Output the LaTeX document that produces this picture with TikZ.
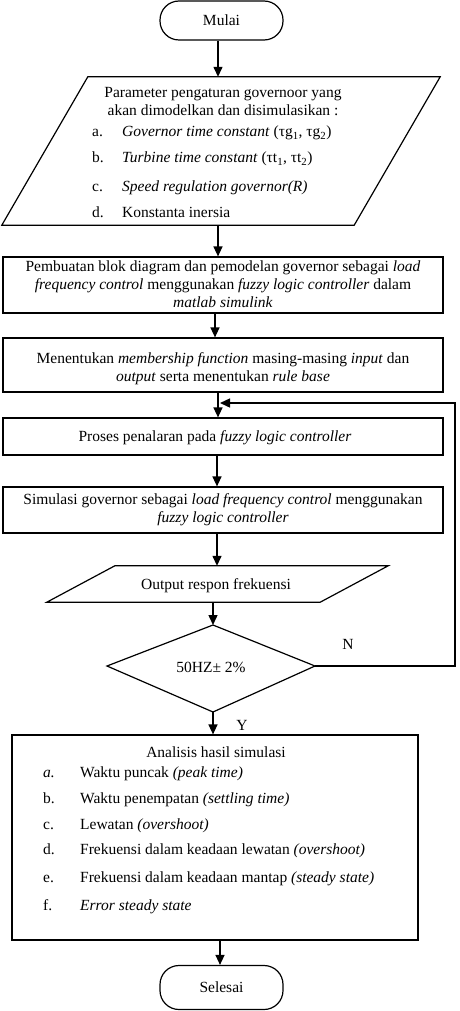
\documentclass[tikz,border=0pt]{standalone}
\usepackage{fontspec}
\setmainfont{Liberation Serif}
\usetikzlibrary{arrows.meta,calc}
\begin{document}
\begin{tikzpicture}[x=1pt,y=-1pt,
  every node/.style={font=\fontsize{15.5}{17.8}\selectfont, inner sep=0pt},
  box/.style={draw, line width=1.2pt},
  term/.style={draw, line width=1.2pt, rounded corners=19pt},
  ghost/.style={draw=none},
  arr/.style={line width=1.4pt, -{Triangle[width=9pt,length=10pt]}},
  line/.style={line width=1.2pt},
  lbl/.style={anchor=base west},
  mid/.style={anchor=base, align=center}]
\useasboundingbox (0,0) rectangle (459,1011);

% Mulai
\node[term, minimum width=123pt, minimum height=39pt] (start) at (221.5,20.5) {Mulai};

% Parallelogram 1
\node[ghost, minimum width=438pt, minimum height=148pt] (p1) at (221,151) {};
\draw[line] ($(p1.north west)+(86,0)$) -- (p1.north east) -- ($(p1.south east)-(86,0)$) -- (p1.south west) -- cycle;
\node[mid] (p1t1) at (223,98) {Parameter pengaturan governoor yang};
\node[mid] (p1t2) at (223,115.5) {akan dimodelkan dan disimulasikan :};
\node[lbl] (p1a) at (92,137) {a.};
\node[lbl] (p1at) at (122,137) {\textit{Governor  time constant} (τg\textsubscript{1}, τg\textsubscript{2})};
\node[lbl] (p1b) at (92,163) {b.};
\node[lbl] (p1bt) at (122,163) {\textit{Turbine time constant} (τt\textsubscript{1}, τt\textsubscript{2})};
\node[lbl] (p1c) at (92,191) {c.};
\node[lbl] (p1ct) at (122,191) {\textit{Speed regulation governor(R)}};
\node[lbl] (p1d) at (92,217) {d.};
\node[lbl] (p1dt) at (122,217) {Konstanta inersia};

% Box 1
\node[box, minimum width=440pt, minimum height=56pt] (b1) at (223,285) {};
\node[mid] (b1t) at (223,307) {Pembuatan blok diagram dan pemodelan governor sebagai \textit{load}\\
\textit{frequency control} menggunakan \textit{fuzzy logic controller} dalam\\ \textit{matlab simulink}};

% Box 2
\node[box, minimum width=440pt, minimum height=54pt] (b2) at (223,365) {};
\node[mid] (b2t) at (223,381) {Menentukan \textit{membership function} masing-masing \textit{input} dan\\
\textit{output} serta menentukan \textit{rule base}};

% Box 3
\node[box, minimum width=440pt, minimum height=37pt] (b3) at (223,436.5) {};
\node[mid] (b3t) at (215,441.5) {Proses penalaran pada \textit{fuzzy logic controller}};

% Box 4
\node[box, minimum width=440pt, minimum height=46pt] (b4) at (223,510) {};
\node[mid] (b4t) at (223,522) {Simulasi governor sebagai \textit{load frequency control} menggunakan\\
\textit{fuzzy logic controller}};

% Parallelogram 2
\node[ghost, minimum width=341pt, minimum height=36pt] (p2) at (217.5,584) {};
\draw[line] ($(p2.north west)+(68,0)$) -- (p2.north east) -- ($(p2.south east)-(68,0)$) -- (p2.south west) -- cycle;
\node[mid] (p2t) at (216,589) {Output respon frekuensi};

% Diamond
\coordinate (dt) at (213,625);
\coordinate (db) at (213,712);
\coordinate (dl) at (107,666);
\coordinate (dr) at (315,666);
\draw[line] (dt) -- (dr) -- (db) -- (dl) -- cycle;
\node[mid] (dtx) at (211,672) {50HZ± 2\%};

% Box 5
\node[box, minimum width=406pt, minimum height=205pt] (b5) at (215,837.5) {};
\node[mid] (b5t) at (216,757) {Analisis hasil simulasi};
\node[lbl] (b5a) at (43,777) {\textit{a.}};
\node[lbl] (b5at) at (80,777) {Waktu puncak \textit{(peak time)}};
\node[lbl] (b5b) at (43,803) {b.};
\node[lbl] (b5bt) at (80,803) {Waktu penempatan \textit{(settling time)}};
\node[lbl] (b5c) at (43,829) {c.};
\node[lbl] (b5ct) at (80,829) {Lewatan \textit{(overshoot)}};
\node[lbl] (b5d) at (43,854) {d.};
\node[lbl] (b5dt) at (80,854) {Frekuensi dalam keadaan lewatan \textit{(overshoot)}};
\node[lbl] (b5e) at (43,882) {e.};
\node[lbl] (b5et) at (80,882) {Frekuensi dalam keadaan mantap \textit{(steady state)}};
\node[lbl] (b5f) at (43,910) {f.};
\node[lbl] (b5ft) at (80,910) {\textit{Error steady state}};

% Selesai
\node[term, minimum width=123pt, minimum height=44pt] (end) at (221.5,987.5) {Selesai};

% Arrows
\draw[arr] (start.south -| 218,0) -- (p1.north -| 218,0);
\draw[arr] (p1.south -| 218,0) -- (b1.north -| 218,0);
\draw[arr] (b1.south -| 215,0) -- (b2.north -| 215,0);
\draw[arr] (b2.south -| 218,0) -- (b3.north -| 218,0);
\draw[arr] (b3.south -| 217,0) -- (b4.north -| 217,0);
\draw[arr] (b4.south -| 217,0) -- (p2.north -| 217,0);
\draw[arr] (p2.south -| 213,0) -- (dt);
\draw[arr] (db) -- (b5.north -| 213,0);
\draw[arr] (b5.south -| 220,0) -- (end.north -| 220,0);

% Feedback
\coordinate (fb1) at (455,666);
\coordinate (fb2) at (455,403);
\coordinate (fb3) at (220,403);
\draw[arr] (dr) -- (fb1) -- (fb2) -- (fb3);

\node[anchor=base] (nlab) at (348,649) {N};
\node[anchor=base] (ylab) at (242,730) {Y};
\end{tikzpicture}
\end{document}
